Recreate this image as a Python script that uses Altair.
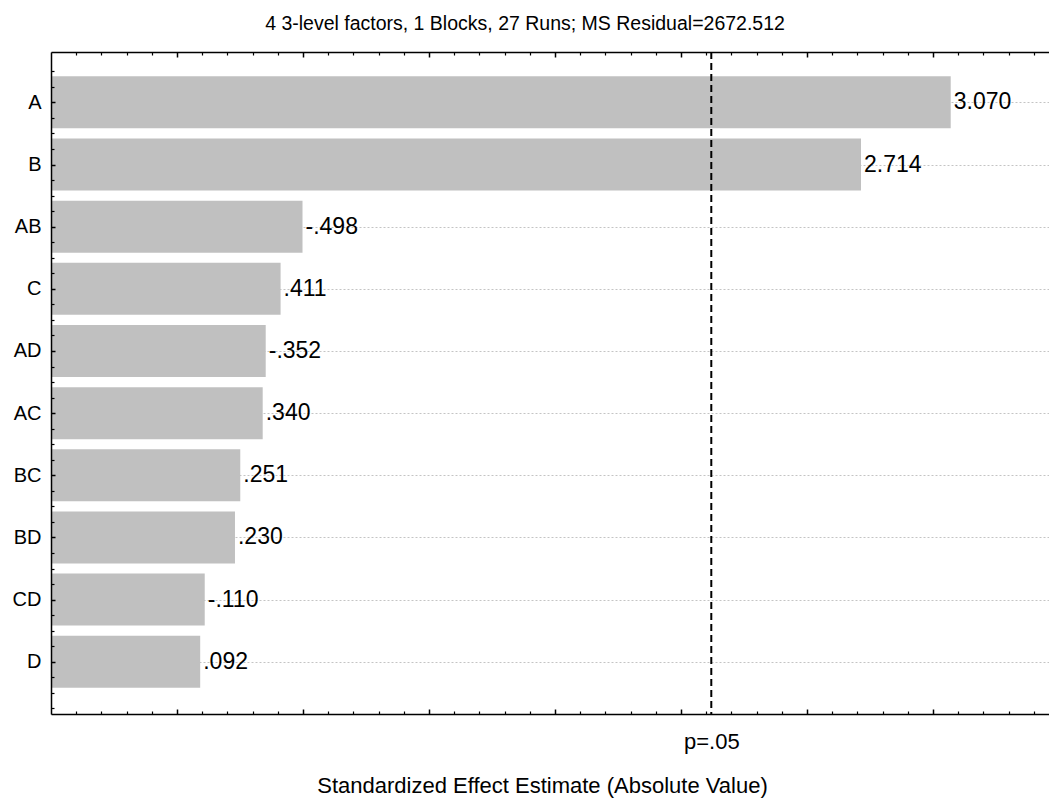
import altair as alt
import pandas as pd

# ---- data ----
factors = ["A", "B", "AB", "C", "AD", "AC", "BC", "BD", "CD", "D"]
effects = [3.070, 2.714, -0.498, 0.411, -0.352, 0.340, 0.251, 0.230, -0.110, 0.092]
effect_labels = ["3.070", "2.714", "-.498", ".411", "-.352", ".340", ".251", ".230", "-.110", ".092"]
p_crit = [2.12]
p_label = "p=.05"
chart_title = "4 3-level factors, 1 Blocks, 27 Runs; MS Residual=2672.512"
x_title = "Standardized Effect Estimate (Absolute Value)"

FONT = "Liberation Sans"
FS_TITLE = 19.5
FS_AXT = 22
FS_LAB = 20
FS_VAL = 23

X_MIN, X_MAX = -0.5, 3.46

df = pd.DataFrame({
    "factor": factors,
    "idx": list(range(len(factors))),
    "absval": [abs(v) for v in effects],
    "label": effect_labels,
})
df_p = pd.DataFrame({"p": p_crit})

xscale = alt.Scale(domain=[X_MIN, X_MAX], nice=False, zero=False)
yscale = alt.Scale(domain=[-0.73, 9.76], nice=False, zero=False, reverse=True)

x_major = [round(0.5 * i, 1) for i in range(0, 7)]
x_minor = [round(-0.5 + 0.1 * i, 1) for i in range(1, 40) if (i % 5) != 0]
y_major = list(range(len(factors)))
y_minor = [round(-0.5 + 0.25 * i, 2) for i in range(0, 42) if (i % 4) != 2]

names_js = "[" + ",".join("'" + f + "'" for f in factors) + "]"


def ax(**kw):
    d = dict(labels=False, ticks=False, domain=False, grid=False, title=None)
    d.update(kw)
    return alt.Axis(**d)


frame = dict(domain=True, domainColor="black", domainWidth=1.5, zindex=1)
tickst = dict(ticks=True, tickColor="black", zindex=1)

bars = alt.Chart(df).mark_bar(orient="horizontal", height=52, color="#c0c0c0").encode(
    x=alt.X("absval:Q", scale=xscale, axis=ax(
        orient="bottom", title=x_title, titleFont=FONT, titleFontSize=FS_AXT,
        titleFontWeight="normal", titleColor="black", titleBaseline="middle",
        titleY=71, titleX=491, **frame)),
    x2=alt.datum(X_MIN),
    y=alt.Y("idx:Q", scale=yscale, axis=ax(
        orient="left", labels=True, values=y_major,
        labelExpr=names_js + "[datum.value]", labelFont=FONT, labelFontSize=FS_LAB,
        labelColor="black", labelPadding=10, **frame)),
)

text = alt.Chart(df).mark_text(align="left", baseline="middle", dx=3, font=FONT,
                               fontSize=FS_VAL, color="black").encode(
    x=alt.X("absval:Q", scale=xscale, axis=ax(
        orient="bottom", offset=-5, tickSize=5, tickWidth=1.5, values=x_major, **tickst)),
    y=alt.Y("idx:Q", scale=yscale, axis=ax(
        orient="left", offset=-4, tickSize=4, tickWidth=1.5, values=y_major, **tickst)),
    text="label:N",
)

rule = alt.Chart(df_p).mark_rule(color="black", strokeDash=[7, 4], strokeWidth=2).encode(
    x=alt.X("p:Q", scale=xscale, axis=ax(
        orient="bottom", labels=True, values=p_crit, labelExpr="'" + p_label + "'",
        labelFont=FONT, labelFontSize=22, labelColor="black", labelPadding=17)),
)

h1 = alt.Chart(df).mark_point(opacity=0).encode(
    x=alt.X("absval:Q", scale=xscale, axis=ax(
        orient="bottom", offset=-3, tickSize=3, tickWidth=1.2, values=x_minor, **tickst)),
    y=alt.Y("idx:Q", scale=yscale, axis=ax(
        orient="left", offset=-3, tickSize=3, tickWidth=1.2, values=y_minor, **tickst)),
)

h2 = alt.Chart(df).mark_point(opacity=0).encode(
    x=alt.X("absval:Q", scale=xscale, axis=ax(orient="top", **frame)),
    y=alt.Y("idx:Q", scale=yscale, axis=ax(
        orient="left", grid=True, gridColor="#c4c4c4", gridDash=[2, 2], gridWidth=1,
        values=y_major, zindex=0)),
)

h3 = alt.Chart(df).mark_point(opacity=0).encode(
    x=alt.X("absval:Q", scale=xscale, axis=ax(
        orient="top", offset=-5, tickSize=5, tickWidth=1.5, values=x_major, **tickst)),
)

h4 = alt.Chart(df).mark_point(opacity=0).encode(
    x=alt.X("absval:Q", scale=xscale, axis=ax(
        orient="top", offset=-3, tickSize=3, tickWidth=1.2, values=x_minor, **tickst)),
)

chart = alt.layer(bars, rule, text, h1, h2, h3, h4).resolve_axis(
    x="independent", y="independent"
).properties(
    width=998, height=662,
    padding={"left": 51, "top": 52, "right": 0, "bottom": 84},
    autosize="none",
    title=alt.TitleParams(chart_title, font=FONT, fontSize=FS_TITLE, fontWeight="normal",
                          color="black", offset=17, dx=-25),
).configure_view(stroke=None).configure(background="white")

chart.save("out.html", embed_options={"renderer": "svg", "actions": False})
